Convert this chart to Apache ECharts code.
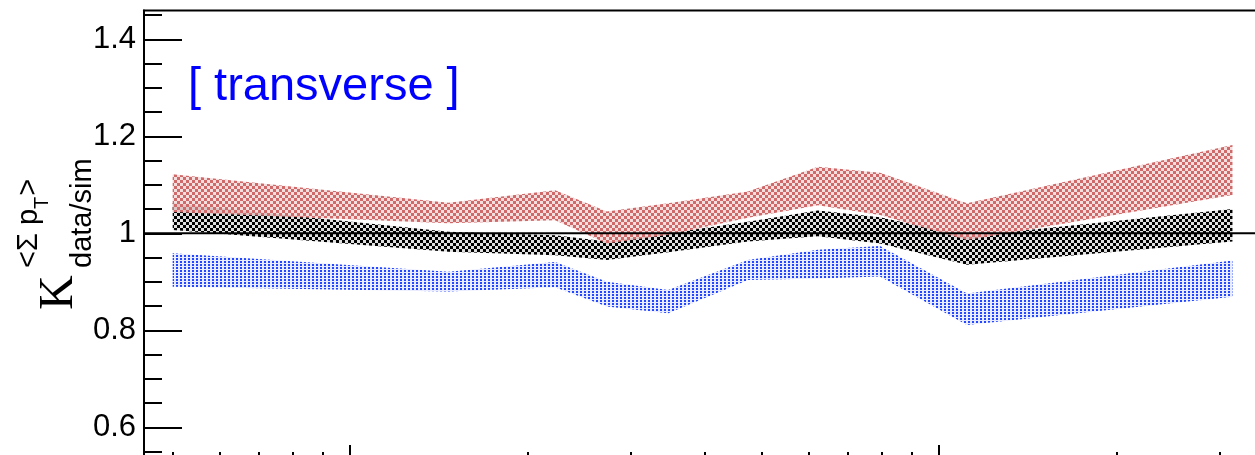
<!DOCTYPE html>
<html><head><meta charset="utf-8">
<script src="https://cdn.jsdelivr.net/npm/echarts@6/dist/echarts.min.js"></script>
<style>html,body{margin:0;padding:0;background:#fff}#c{width:1255px;height:455px}</style>
</head><body><div id="c"></div>
<script>
// ---- data ----
const xValues   = [5, 14.7, 22.3, 27.3, 34.7, 47.4, 62.3, 79.4, 111.6, 315];
const redHigh   = [1.122, 1.063, 1.089, 1.045, 1.062, 1.086, 1.137, 1.125, 1.062, 1.182];
const redLow    = [1.044, 1.021, 1.027, 0.979, 0.997, 1.032, 1.058, 1.038, 0.986, 1.079];
const blackHigh = [1.062, 1.003, 0.996, 0.983, 1.000, 1.024, 1.047, 1.033, 0.994, 1.050];
const blackLow  = [1.007, 0.962, 0.955, 0.945, 0.961, 0.983, 0.994, 0.979, 0.935, 0.983];
const blueHigh  = [0.959, 0.921, 0.941, 0.900, 0.883, 0.945, 0.966, 0.974, 0.876, 0.944];
const blueLow   = [0.890, 0.880, 0.889, 0.849, 0.835, 0.904, 0.907, 0.911, 0.811, 0.869];
const refValue = 1;
const yMajorTicks = [0.6, 0.8, 1, 1.2, 1.4];
const yMinorTicks = [0.55, 0.65, 0.7, 0.75, 0.85, 0.9, 0.95, 1.05, 1.1, 1.15, 1.25, 1.3, 1.35, 1.45];
const xMajorTicks = [10, 100];
const xMinorTicks = [5, 6, 7, 8, 9, 20, 30, 40, 50, 60, 70, 80, 90, 200, 300];
const panelLabel = '[ transverse ]';

// ---- axis ranges ----
const yMin = 0.5347, yMax = 1.4594;
const xMin = 4.470, xMax = 372.0;

function makePattern(kind, color, bg) {
  const c = document.createElement('canvas');
  const ctx = c.getContext('2d');
  if (kind === 'checker') {
    c.width = 6; c.height = 6;
    ctx.fillStyle = bg; ctx.fillRect(0, 0, 6, 6);
    ctx.fillStyle = color;
    ctx.fillRect(0, 0, 3, 3); ctx.fillRect(3, 3, 3, 3);
  } else {
    c.width = 4; c.height = 3;
    ctx.fillStyle = bg; ctx.fillRect(0, 0, 4, 3);
    ctx.fillStyle = color;
    ctx.fillRect(0, 0, 2, 2);
  }
  return { image: c, repeat: 'repeat' };
}

function bandSeries(name, low, high, fill, z) {
  return {
    name, type: 'custom', z, silent: true,
    coordinateSystem: 'cartesian2d',
    data: xValues.map((x, i) => [x, low[i], high[i]]),
    encode: { x: 0, y: [1, 2] },
    renderItem: function (params, api) {
      if (params.dataIndex !== 0) return null;
      const pts = [];
      for (let i = 0; i < xValues.length; i++) pts.push(api.coord([xValues[i], high[i]]));
      for (let i = xValues.length - 1; i >= 0; i--) pts.push(api.coord([xValues[i], low[i]]));
      return { type: 'polygon', shape: { points: pts }, style: { fill: fill, stroke: null } };
    }
  };
}

const chart = echarts.init(document.getElementById('c'), null, { renderer: 'canvas' });

// y-axis title built from pieces (rotated)
const meas = document.createElement('canvas').getContext('2d');
function tw(text, font) { meas.font = font; return meas.measureText(text).width; }
const fSup = '29px "Liberation Sans"', fT = '20px "Liberation Sans"';
const yBase = 309, subStart = yBase - 268;
const wSup = tw('<Σ p', fSup), wT = tw('T', fT);

const grid = { left: 144, top: 10.5, width: 1131, height: 448.5, show: true,
  borderColor: '#000', borderWidth: 2, backgroundColor: 'transparent',
  containLabel: false, outerBoundsMode: 'none' };

const baseX = { type: 'log', min: xMin, max: xMax, logBase: 10, position: 'bottom',
  axisLine: { show: false }, splitLine: { show: false }, axisLabel: { show: false },
  minorTick: { show: false }, minorSplitLine: { show: false } };
const baseY = { type: 'value', min: yMin, max: yMax, position: 'left', offset: 0,
  splitLine: { show: false }, minorTick: { show: false } };

chart.setOption({
  animation: false,
  backgroundColor: '#fff',
  title: { text: panelLabel, left: 188, top: 64, padding: 0,
    textStyle: { color: '#0000ff', fontFamily: 'Liberation Sans', fontSize: 47, fontWeight: 'normal' } },
  grid: grid,
  xAxis: [
    Object.assign({}, baseX, { axisTick: { show: true, inside: true, length: 14, customValues: xMajorTicks,
      lineStyle: { color: '#000', width: 2 } } }),
    Object.assign({}, baseX, { axisTick: { show: true, inside: true, length: 7, customValues: xMinorTicks,
      lineStyle: { color: '#000', width: 2 } } })
  ],
  yAxis: [
    Object.assign({}, baseY, {
      axisLine: { show: true, lineStyle: { color: '#000', width: 2 } },
      axisTick: { show: true, inside: true, length: 38, customValues: yMajorTicks, lineStyle: { color: '#000', width: 2 } },
      axisLabel: { show: true, customValues: yMajorTicks, margin: 8, color: '#000',
        fontFamily: 'Liberation Sans', fontSize: 31, padding: [7, 0, 0, 0],
        formatter: v => String(+v.toFixed(2)) }
    }),
    Object.assign({}, baseY, {
      axisLine: { show: false },
      axisTick: { show: true, inside: true, length: 18, customValues: yMinorTicks, lineStyle: { color: '#000', width: 2 } },
      axisLabel: { show: false }
    })
  ],
  graphic: [{
    type: 'group', x: 0, y: yBase, rotation: Math.PI / 2, silent: true,
    children: [
      { type: 'text', x: -1, y: 74 - 0.30 * 48, style: { text: 'K', font: '48px "Liberation Serif"', fill: '#000', verticalAlign: 'middle', align: 'left' } },
      { type: 'text', x: subStart, y: 92 - 0.31 * 29, style: { text: 'data/sim', font: fSup, fill: '#000', verticalAlign: 'middle', align: 'left' } },
      { type: 'text', x: subStart, y: 38 - 0.31 * 29, style: { text: '<Σ p', font: fSup, fill: '#000', verticalAlign: 'middle', align: 'left' } },
      { type: 'text', x: subStart + wSup, y: 49 - 0.31 * 20, style: { text: 'T', font: fT, fill: '#000', verticalAlign: 'middle', align: 'left' } },
      { type: 'text', x: subStart + wSup + wT + 1, y: 38 - 0.31 * 29, style: { text: '>', font: fSup, fill: '#000', verticalAlign: 'middle', align: 'left' } }
    ]
  }],
  series: [
    bandSeries('blue', blueLow, blueHigh, makePattern('dots', '#2346ff', 'rgba(35,70,255,0.10)'), 2),
    bandSeries('black', blackLow, blackHigh, makePattern('checker', '#000000', 'rgba(0,0,0,0.12)'), 3),
    bandSeries('red', redLow, redHigh, makePattern('checker', '#d06a6a', 'rgba(208,106,106,0.22)'), 4),
    { type: 'line', z: 5, silent: true, symbol: 'none', data: [[xMin, refValue], [xMax, refValue]],
      lineStyle: { color: '#000', width: 2 } }
  ]
});
</script>
</body></html>
